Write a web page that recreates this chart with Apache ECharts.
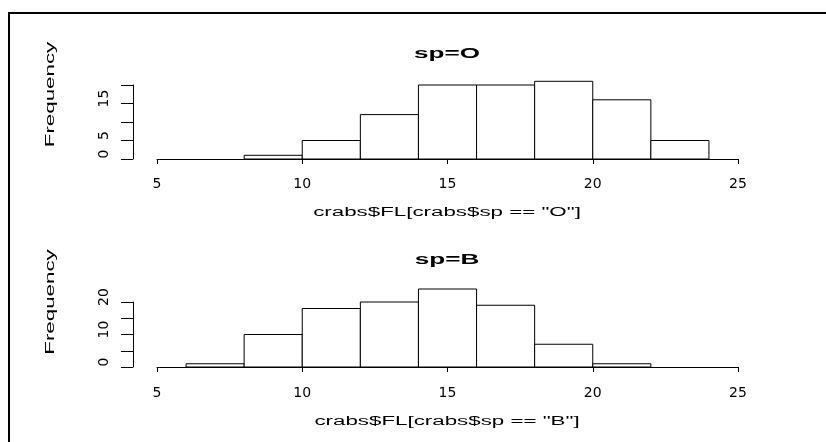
<!DOCTYPE html>
<html>
<head>
<meta charset="utf-8">
<script src="https://cdn.jsdelivr.net/npm/echarts@6/dist/echarts.min.js"></script>
<style>
html,body{margin:0;padding:0;background:#fff;}
#chart{width:826px;height:442px;}
</style>
</head>
<body>
<div id="chart"></div>
<script>
// ---- data ----
const topBreaks = [8, 10, 12, 14, 16, 18, 20, 22, 24];
const topCounts = [1, 5, 12, 20, 20, 21, 16, 5];
const bottomBreaks = [6, 8, 10, 12, 14, 16, 18, 20, 22];
const bottomCounts = [1, 10, 18, 20, 24, 19, 7, 1];
const xTicks = [5, 10, 15, 20, 25];
const yTicks = [0, 5, 10, 15, 20];
const topYLabels = ['0', '5', '', '15', ''];
const bottomYLabels = ['0', '', '10', '', '20'];
const topTitle = 'sp=O';
const bottomTitle = 'sp=B';
const topXName = 'crabs$FL[crabs$sp == "O"]';
const bottomXName = 'crabs$FL[crabs$sp == "B"]';
const yName = 'Frequency';

function binsOf(breaks, counts) {
  return counts.map((c, i) => [breaks[i], breaks[i + 1], c]);
}

function renderBin(params, api) {
  const x0 = api.value(0), x1 = api.value(1), c = api.value(2);
  const p0 = api.coord([x0, 0]);
  const p1 = api.coord([x1, c]);
  return {
    type: 'rect',
    shape: { x: p0[0], y: p1[1], width: p1[0] - p0[0], height: p0[1] - p1[1] },
    style: { fill: '#ffffff', stroke: '#000000', lineWidth: 1 }
  };
}

const SX = 1.86;
const tickFont = { fontFamily: 'DejaVu Sans', fontSize: 14, color: '#000' };

function xAxisCfg(gridIndex, offset, margin) {
  return {
    type: 'value', gridIndex: gridIndex, min: xTicks[0], max: xTicks[xTicks.length - 1], interval: 5,
    offset: offset,
    axisLine: { show: true, lineStyle: { color: '#000', width: 1 } },
    axisTick: { show: true, length: 5, lineStyle: { color: '#000', width: 1 } },
    axisLabel: Object.assign({ margin: margin, formatter: v => String(v) }, tickFont),
    splitLine: { show: false }
  };
}
function yAxisCfg(gridIndex, labels) {
  return {
    type: 'value', gridIndex: gridIndex, min: yTicks[0], max: yTicks[yTicks.length - 1], interval: 5,
    offset: 24,
    axisLine: { show: true, lineStyle: { color: '#000', width: 1 } },
    axisTick: { show: true, length: 12, lineStyle: { color: '#000', width: 1 } },
    axisLabel: Object.assign({
      rotate: 90, margin: 22, padding: [0, 0, 0, 10],
      formatter: v => { const i = yTicks.indexOf(v); return i >= 0 ? labels[i] : ''; }
    }, tickFont),
    splitLine: { show: false }
  };
}

function gText(text, x, y, font, rot) {
  return {
    type: 'text', x: x, y: y, rotation: rot || 0, scaleX: SX, scaleY: 1,
    style: { text: text, font: font, fill: '#000', align: 'center', verticalAlign: 'middle' },
    silent: true
  };
}

const chart = echarts.init(document.getElementById('chart'), null, { renderer: 'canvas' });
chart.setOption({
  animation: false,
  backgroundColor: '#ffffff',
  grid: [
    { left: 157, top: 85, width: 581, height: 74 },
    { left: 157, top: 302, width: 581, height: 65 }
  ],
  xAxis: [xAxisCfg(0, 4, 14), xAxisCfg(1, 3, 16)],
  yAxis: [yAxisCfg(0, topYLabels), yAxisCfg(1, bottomYLabels)],
  series: [
    { type: 'custom', xAxisIndex: 0, yAxisIndex: 0, renderItem: renderBin,
      encode: { x: [0, 1], y: 2 }, data: binsOf(topBreaks, topCounts) },
    { type: 'custom', xAxisIndex: 1, yAxisIndex: 1, renderItem: renderBin,
      encode: { x: [0, 1], y: 2 }, data: binsOf(bottomBreaks, bottomCounts) }
  ],
  graphic: [
    { type: 'line', shape: { x1: 8, y1: 13, x2: 826, y2: 13 }, style: { stroke: '#000', lineWidth: 2 }, silent: true },
    { type: 'line', shape: { x1: 9, y1: 12, x2: 9, y2: 442 }, style: { stroke: '#000', lineWidth: 2 }, silent: true },
    gText(topTitle, 447, 54, 'bold 14px "Liberation Sans"'),
    gText(bottomTitle, 447, 260, 'bold 14px "Liberation Sans"'),
    gText(topXName, 447, 212.5, '12px "Liberation Sans"'),
    gText(bottomXName, 447, 421.5, '12px "Liberation Sans"'),
    gText(yName, 51, 94.5, '12px "Liberation Sans"', Math.PI / 2),
    gText(yName, 51, 302, '12px "Liberation Sans"', Math.PI / 2)
  ]
});
</script>
</body>
</html>
